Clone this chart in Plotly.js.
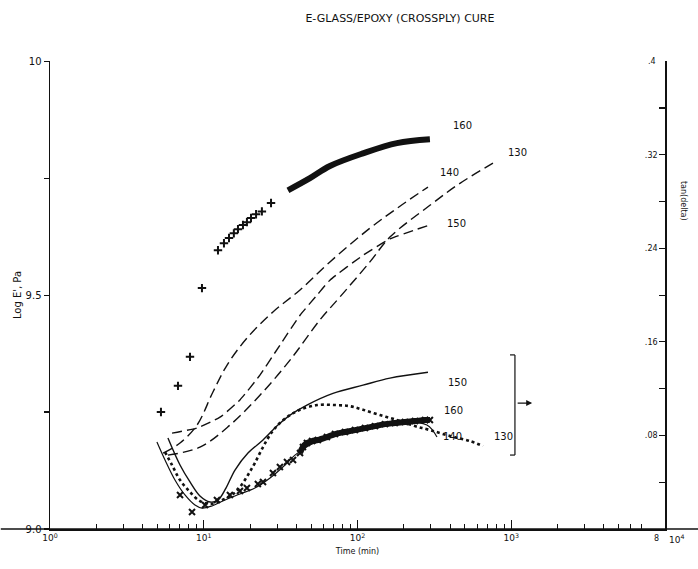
<!DOCTYPE html>
<html>
<head>
<meta charset="utf-8">
<script src="https://cdn.plot.ly/plotly-3.0.1.min.js"></script>
<style>html,body{margin:0;padding:0;background:#fff;}#chart{width:698px;height:569px;}</style>
</head>
<body>
<div id="chart"></div>
<script>
// ---- Log E' (left axis) ----
const e160SparseT = [5.27, 6.80, 8.14, 9.74, 12.38, 13.54, 14.6, 15.7, 16.7, 18.0, 19.1, 20.3, 21.9, 23.9, 27.4];
const e160SparseE = [9.25, 9.306, 9.368, 9.515, 9.596, 9.611, 9.622, 9.632, 9.641, 9.650, 9.656, 9.665, 9.673, 9.679, 9.697];
const e160DenseT = [35.3, 49.1, 66.2, 108.6, 180.7, 296];
const e160DenseE = [9.724, 9.750, 9.776, 9.803, 9.825, 9.833];

const e140T = [5.44, 7.01, 9.04, 11.48, 14.16, 19.1, 28.2, 42.3, 66.2, 120.5, 188.9, 287.5];
const e140E = [9.162, 9.184, 9.222, 9.293, 9.350, 9.408, 9.464, 9.511, 9.571, 9.643, 9.690, 9.731];

const e150T = [6.22, 9.04, 12.76, 17.2, 23.2, 31.3, 42.3, 54.6, 66.2, 108.6, 162.6, 296];
const e150E = [9.205, 9.216, 9.239, 9.276, 9.329, 9.393, 9.457, 9.500, 9.532, 9.585, 9.620, 9.650];

const e130T = [5.85, 9.45, 14.8, 23.2, 36.4, 57.0, 76.9, 120.5, 162.6, 296, 464, 761];
const e130E = [9.158, 9.175, 9.222, 9.286, 9.361, 9.447, 9.496, 9.571, 9.624, 9.692, 9.739, 9.782];

// ---- tan(delta) (right axis) ----
const d150T = [5.85, 7.01, 8.14, 9.45, 10.98, 12.38, 13.95, 15.97, 19.4, 24.3, 30.4, 36.4, 46.9, 69.3, 108.6, 162.6, 287.5];
const d150V = [0.0778, 0.0547, 0.0402, 0.0282, 0.0231, 0.0248, 0.0350, 0.0504, 0.0650, 0.0761, 0.0889, 0.0974, 0.106, 0.116, 0.123, 0.129, 0.134];

const d140T = [4.96, 5.60, 6.50, 7.55, 8.77, 9.74, 11.32, 13.75, 17.2, 21.5, 27.0, 33.8, 39.2, 49.1, 66.2, 108.6, 180.7, 283, 329];
const d140V = [0.0744, 0.0590, 0.0419, 0.0291, 0.0205, 0.0179, 0.0197, 0.0248, 0.0299, 0.0350, 0.0436, 0.0547, 0.0632, 0.0718, 0.0786, 0.0872, 0.0915, 0.0889, 0.0786];

const d160T = [7.01, 8.39, 10.2, 12.19, 14.8, 17.2, 19.1, 22.5, 24.3, 28.2, 31.3, 34.8, 38.1, 42.3, 44.2, 46.9, 50.6, 55.3, 63.3, 71.4, 82.9, 96.3, 111.9, 130, 151, 175, 203.6, 236.6, 275, 296];
const d160V = [0.0291, 0.0145, 0.0205, 0.0248, 0.0291, 0.0325, 0.0350, 0.0385, 0.0402, 0.0479, 0.0530, 0.0573, 0.0590, 0.0650, 0.0701, 0.0735, 0.0752, 0.0761, 0.0786, 0.0812, 0.0829, 0.0846, 0.0863, 0.0880, 0.0897, 0.0906, 0.0915, 0.0923, 0.0932, 0.0932];

const d130T = [5.60, 6.22, 7.01, 8.14, 9.45, 10.98, 12.76, 15.27, 17.2, 19.4, 21.5, 24.3, 27.8, 31.3, 36.4, 42.3, 54.6, 71.4, 89.4, 108.6, 140, 180.7, 236.6, 296, 400, 539, 655];
const d130V = [0.0658, 0.0547, 0.0419, 0.0316, 0.0239, 0.0214, 0.0239, 0.0291, 0.0359, 0.0462, 0.0564, 0.0701, 0.0829, 0.0906, 0.0974, 0.102, 0.106, 0.106, 0.105, 0.102, 0.0974, 0.0932, 0.0880, 0.0846, 0.0795, 0.0752, 0.0709];

// ---- axis ticks ----
const xMajor = [1, 10, 100, 1000, 10000];
const xMajorText = ['10<sup>0</sup>', '10<sup>1</sup>', '10<sup>2</sup>', '10<sup>3</sup>', ''];
const xMinor = [2,3,4,5,6,7,8,9,20,30,40,50,60,70,80,90,200,300,400,500,600,700,800,900,2000,3000,4000,5000,6000,7000,8000,9000];
const yTicks = [9.0, 9.25, 9.5, 9.75, 10];
const yTickText = ['9.0', ' ', '9.5', ' ', '10'];
const y2Ticks = [0.04, 0.08, 0.12, 0.16, 0.20, 0.24, 0.28, 0.32, 0.36, 0.40];
const y2TickText = [' ', '.08', ' ', '.16', ' ', '.24', ' ', '.32', ' ', ' '];

const K = '#111';
const traces = [
  {x: e160SparseT, y: e160SparseE, mode: 'markers', marker: {symbol: 'cross-thin', size: 6, line: {width: 2, color: K}}, yaxis: 'y'},
  {x: e160DenseT, y: e160DenseE, mode: 'lines', line: {color: K, width: 6, shape: 'spline'}, yaxis: 'y'},
  {x: e140T, y: e140E, mode: 'lines', line: {color: K, width: 1.4, dash: '10px,5px', shape: 'spline'}, yaxis: 'y'},
  {x: e150T, y: e150E, mode: 'lines', line: {color: K, width: 1.4, dash: '10px,5px', shape: 'spline', smoothing: 0.5}, yaxis: 'y'},
  {x: e130T, y: e130E, mode: 'lines', line: {color: K, width: 1.4, dash: '10px,5px', shape: 'spline'}, yaxis: 'y'},
  {x: d150T, y: d150V, mode: 'lines', line: {color: K, width: 1.4, shape: 'spline'}, yaxis: 'y2'},
  {x: d140T, y: d140V, mode: 'lines', line: {color: K, width: 1.2, shape: 'spline'}, yaxis: 'y2'},
  {x: d160T, y: d160V, mode: 'markers', marker: {symbol: 'x-thin', size: 6, line: {width: 2, color: K}}, yaxis: 'y2'},
  {x: d160T.slice(13), y: d160V.slice(13), mode: 'lines', line: {color: K, width: 6, shape: 'spline'}, yaxis: 'y2'},
  {x: d130T, y: d130V, mode: 'lines', line: {color: K, width: 2.6, dash: 'dot', shape: 'spline'}, yaxis: 'y2'}
];

const lab = (t, x, y) => ({text: t, xref: 'paper', yref: 'paper', x: x, y: y, showarrow: false, xanchor: 'left', yanchor: 'middle', font: {family: 'DejaVu Sans', size: 10, color: K}});

const layout = {
  width: 698, height: 569,
  margin: {l: 50, r: 33, t: 61, b: 40},
  paper_bgcolor: '#fff', plot_bgcolor: '#fff',
  showlegend: false,
  font: {family: 'DejaVu Sans', color: K},
  title: {text: 'E-GLASS/EPOXY (CROSSPLY) CURE', x: 0.569, xref: 'paper', xanchor: 'center', y: 0.968, yref: 'container', yanchor: 'middle', font: {family: 'DejaVu Sans', size: 11, color: K}},
  xaxis: {
    type: 'log', range: [0, 4.0005], showgrid: false, zeroline: false,
    showline: true, linecolor: K, linewidth: 1.5,
    ticks: 'inside', ticklen: 9, tickwidth: 1.2, tickcolor: K,
    tickmode: 'array', tickvals: xMajor, ticktext: xMajorText,
    tickfont: {size: 9, color: K},
    minor: {ticks: 'inside', ticklen: 5, tickwidth: 1, tickcolor: K, tickmode: 'array', tickvals: xMinor, showgrid: false},
    title: {text: 'Time (min)', font: {size: 8, color: K}, standoff: 6}
  },
  yaxis: {
    range: [9, 10.0005], showgrid: false, zeroline: false,
    showline: true, linecolor: K, linewidth: 1.5,
    ticks: 'outside', ticklen: 5, tickwidth: 1.2, tickcolor: K,
    tickmode: 'array', tickvals: yTicks, ticktext: yTickText,
    tickfont: {size: 10, color: K},
    title: {text: "Log E', Pa", font: {size: 10, color: K}, standoff: 2}
  },
  yaxis2: {
    overlaying: 'y', side: 'right', range: [0, 0.4002], showgrid: false, zeroline: false,
    showline: true, linecolor: K, linewidth: 1.5,
    ticks: 'inside', ticklen: 6, tickwidth: 1.2, tickcolor: K,
    ticklabelposition: 'inside',
    tickmode: 'array', tickvals: y2Ticks, ticktext: y2TickText,
    tickfont: {size: 8, color: K}
  },
  shapes: [
    {type: 'line', xref: 'paper', yref: 'paper', x0: -0.08, x1: 1.06, y0: 0, y1: 0, line: {color: K, width: 1.5}},
    {type: 'line', xref: 'paper', yref: 'paper', x0: 0.756, x1: 0.756, y0: 0.158, y1: 0.372, line: {color: K, width: 1.2}},
    {type: 'line', xref: 'paper', yref: 'paper', x0: 0.748, x1: 0.756, y0: 0.372, y1: 0.372, line: {color: K, width: 1.2}},
    {type: 'line', xref: 'paper', yref: 'paper', x0: 0.748, x1: 0.756, y0: 0.158, y1: 0.158, line: {color: K, width: 1.2}}
  ],
  annotations: [
    lab('160', 0.652, 0.863),
    lab('130', 0.742, 0.805),
    lab('140', 0.631, 0.761),
    lab('150', 0.642, 0.652),
    lab('150', 0.644, 0.312),
    lab('160', 0.638, 0.254),
    lab('140', 0.636, 0.197),
    lab('130', 0.719, 0.197),
    {text: '.4', xref: 'paper', yref: 'paper', x: 0.988, y: 1.0, showarrow: false, xanchor: 'right', yanchor: 'middle', font: {size: 8, color: K}},
    {text: '10<sup>4</sup>', xref: 'paper', yref: 'paper', x: 1.004, y: -0.004, showarrow: false, xanchor: 'left', yanchor: 'top', font: {size: 9, color: K}},
    {text: '8', xref: 'paper', yref: 'paper', x: 0.993, y: -0.006, showarrow: false, xanchor: 'right', yanchor: 'top', font: {size: 8, color: K}},
    {xref: 'paper', yref: 'paper', x: 0.784, y: 0.269, ax: -16, ay: 0, axref: 'pixel', ayref: 'pixel', showarrow: true, arrowhead: 2, arrowsize: 1, arrowwidth: 1.2, arrowcolor: K, text: ''},
    {text: 'tan(delta)', xref: 'paper', yref: 'paper', x: 1.03, y: 0.70, showarrow: false, textangle: 90, font: {size: 8, color: K}, xanchor: 'center', yanchor: 'middle'}
  ]
};

Plotly.newPlot('chart', traces, layout, {staticPlot: true, displayModeBar: false});
</script>
</body>
</html>
